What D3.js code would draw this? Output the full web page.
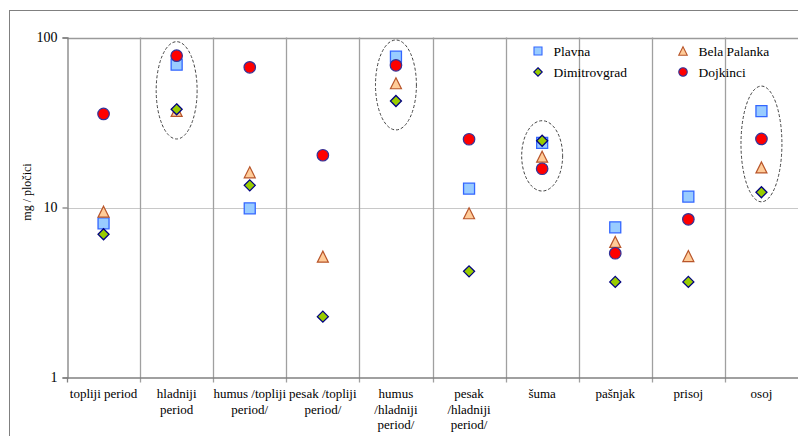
<!DOCTYPE html>
<html>
<head>
<meta charset="utf-8">
<script src="https://cdn.jsdelivr.net/npm/d3@7"></script>
<style>
  html, body { margin: 0; padding: 0; background: #fff; }
  svg { display: block; }
  svg text { font-family: "Liberation Serif", "Times New Roman", Times, "DejaVu Serif", serif; }
</style>
</head>
<body>
<svg id="chart" width="798" height="436"></svg>
<script>
// Category labels ("\n" marks a line break in the axis label)
const categories = [
  "topliji period",
  "hladniji\nperiod",
  "humus /topliji\nperiod/",
  "pesak /topliji\nperiod/",
  "humus\n/hladniji\nperiod/",
  "pesak\n/hladniji\nperiod/",
  "šuma",
  "pašnjak",
  "prisoj",
  "osoj"
];

// mg / pločici per site
const plavna       = [8.07, 69.2, 9.89, null, 77.1, 12.9, 24.0, 7.65, 11.6, 36.9];
const belaPalanka  = [9.45, 37.0, 16.1, 5.14, 53.8, 9.25, 19.9, 6.27, 5.18, 17.2];
const dimitrovgrad = [6.96, 37.8, 13.5, 2.28, 42.3, 4.21, 24.7, 3.65, 3.65, 12.3];
const dojkinci     = [35.5, 78.2, 66.8, 20.3, 68.6, 25.2, 16.9, 5.38, 8.52, 25.3];

const yTicks = [1, 10, 100];

// Highlighted groups: category and the value span the ring covers
const highlightCats = ["hladniji\nperiod", "humus\n/hladniji\nperiod/", "šuma", "osoj"];
const highlightTop  = [94.5, 96.7, 32.4, 51.8];
const highlightLow  = [25.3, 28.6, 12.5, 10.8];

// ---- geometry ----
const plotL = 67, plotR = 798, plotT = 37.5, plotB = 377.5;
const serif = '"Liberation Serif", "Times New Roman", Times, "DejaVu Serif", serif';

const svg = d3.select("#chart").attr("font-family", serif);

const x = d3.scaleBand().domain(categories).range([plotL, plotR]).padding(0);
const y = d3.scaleLog().domain([1, 100]).range([plotB, plotT]);

// outer frame
svg.append("rect")
  .attr("x", 9.5).attr("y", 10.5)
  .attr("width", 820).attr("height", 460)
  .attr("fill", "none").attr("stroke", "#808080").attr("stroke-width", 1);

// horizontal grid lines
svg.append("g")
  .selectAll("line")
  .data(yTicks.filter(v => v > 1))
  .join("line")
  .attr("x1", plotL).attr("x2", plotR)
  .attr("y1", d => Math.round(y(d)) + 0.5).attr("y2", d => Math.round(y(d)) + 0.5)
  .attr("stroke", d => d === 100 ? "#9a9a9a" : "#c8c8c8")
  .attr("stroke-width", d => d === 100 ? 1.5 : 1.2);

// category separators with tick marks below the axis
svg.append("g")
  .selectAll("line")
  .data(categories.slice(1))
  .join("line")
  .attr("x1", d => Math.round(x(d)) + 0.5).attr("x2", d => Math.round(x(d)) + 0.5)
  .attr("y1", plotT).attr("y2", plotB + 5)
  .attr("stroke", "#a0a0a0").attr("stroke-width", 1.3);

// bottom axis line
svg.append("line")
  .attr("x1", plotL - 0.5).attr("x2", plotR)
  .attr("y1", plotB + 0.5).attr("y2", plotB + 0.5)
  .attr("stroke", "#808080").attr("stroke-width", 1.3);
svg.append("line")
  .attr("x1", plotL + 0.5).attr("x2", plotL + 0.5)
  .attr("y1", plotB).attr("y2", plotB + 5)
  .attr("stroke", "#808080").attr("stroke-width", 1.3);

// y axis
const yAxis = d3.axisLeft(y)
  .tickValues(yTicks)
  .tickFormat(d3.format("d"))
  .tickSize(5)
  .tickPadding(5);
const gy = svg.append("g")
  .attr("transform", `translate(${plotL + 0.5},0)`)
  .call(yAxis)
  .attr("font-family", serif)
  .attr("font-size", 14);
gy.select(".domain").attr("stroke", "#808080").attr("stroke-width", 1.3);
gy.selectAll(".tick line").attr("stroke", "#808080").attr("stroke-width", 1.3);
gy.selectAll(".tick text").attr("fill", "#000");

// y axis title
svg.append("text")
  .attr("transform", `translate(31,192) rotate(-90)`)
  .attr("text-anchor", "middle")
  .attr("font-size", 12)
  .text("mg / pločici");

// category labels
const xl = svg.append("g");
categories.forEach(c => {
  const lines = c.split("\n");
  const t = xl.append("text")
    .attr("text-anchor", "middle")
    .attr("font-size", 13)
    .attr("fill", "#000");
  lines.forEach((ln, i) => {
    t.append("tspan")
      .attr("x", x(c) + x.bandwidth() / 2)
      .attr("y", 398 + i * 15.5)
      .text(ln);
  });
});

// highlight rings
svg.append("g")
  .selectAll("ellipse")
  .data(highlightCats.map((c, i) => ({ c, hi: highlightTop[i], lo: highlightLow[i] })))
  .join("ellipse")
  .attr("cx", d => x(d.c) + x.bandwidth() / 2)
  .attr("cy", d => (y(d.hi) + y(d.lo)) / 2)
  .attr("rx", x.bandwidth() * 0.28)
  .attr("ry", d => (y(d.lo) - y(d.hi)) / 2)
  .attr("fill", "none")
  .attr("stroke", "#444")
  .attr("stroke-width", 1)
  .attr("stroke-dasharray", "3,2");

// marker shapes
const shapes = {
  square: s => `M${-s/2},${-s/2}h${s}v${s}h${-s}Z`,
  diamond: s => `M0,${-s/2}L${s/2},0L0,${s/2}L${-s/2},0Z`,
  triangle: s => `M0,${-s/2}L${s/2},${s/2}L${-s/2},${s/2}Z`,
  circle: s => d3.arc()({ innerRadius: 0, outerRadius: s / 2, startAngle: 0, endAngle: 2 * Math.PI })
};

const series = [
  { name: "Plavna",       values: plavna,       shape: "square",   size: 11,  fill: "#99ccff", stroke: "#3366ff", sw: 1.3 },
  { name: "Bela Palanka", values: belaPalanka,  shape: "triangle", size: 11,  fill: "#ffcc99", stroke: "#b8552a", sw: 1.2 },
  { name: "Dimitrovgrad", values: dimitrovgrad, shape: "diamond",  size: 11,  fill: "#99cc00", stroke: "#000080", sw: 1.3 },
  { name: "Dojkinci",     values: dojkinci,     shape: "circle",   size: 11.5, fill: "#ff0000", stroke: "#333399", sw: 1.2 }
];

series.forEach(s => {
  svg.append("g")
    .selectAll("path")
    .data(s.values.map((v, i) => ({ v, c: categories[i] })).filter(d => d.v != null))
    .join("path")
    .attr("transform", d => `translate(${x(d.c) + x.bandwidth() / 2},${y(d.v)})`)
    .attr("d", shapes[s.shape](s.size))
    .attr("fill", s.fill)
    .attr("stroke", s.stroke)
    .attr("stroke-width", s.sw);
});

// legend
const legendOrder = ["Plavna", "Dimitrovgrad", "Bela Palanka", "Dojkinci"];
const legendPos = [[538, 51], [538, 72], [683, 51], [683, 72]];
legendOrder.forEach((name, i) => {
  const s = series.find(d => d.name === name);
  const [lx, ly] = legendPos[i];
  svg.append("path")
    .attr("transform", `translate(${lx},${ly})`)
    .attr("d", shapes[s.shape](s.shape === "square" ? 8 : 8.5))
    .attr("fill", s.fill)
    .attr("stroke", s.stroke)
    .attr("stroke-width", 1.1);
  svg.append("text")
    .attr("x", lx + 15.5).attr("y", ly)
    .attr("dy", "0.35em")
    .attr("font-size", 13.5)
    .text(name);
});
</script>
</body>
</html>
